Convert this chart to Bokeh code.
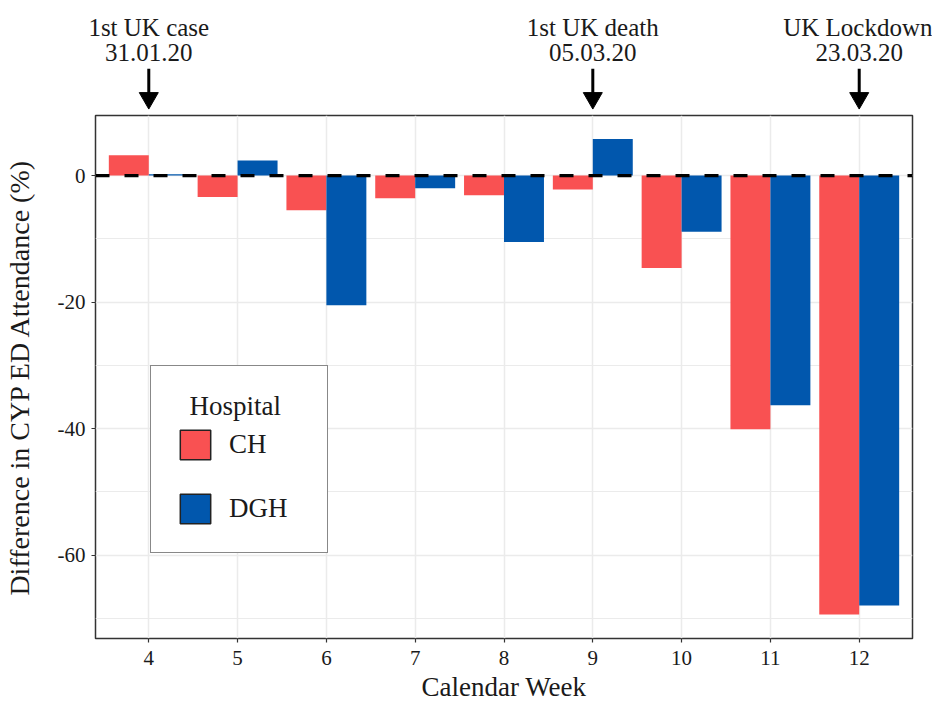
import math
from bokeh.plotting import figure
from bokeh.layouts import column
from bokeh.models import (Range1d, FixedTicker, Span, Legend, LegendItem,
                          ColumnDataSource, LinearAxis)
from bokeh.transform import dodge
from bokeh.embed import file_html
from bokeh.resources import INLINE

# ---- data ----
weeks = [4, 5, 6, 7, 8, 9, 10, 11, 12]
ch = [3.2, -3.4, -5.5, -3.6, -3.1, -2.2, -14.6, -40.1, -69.4]
dgh = [0.2, 2.4, -20.5, -2.0, -10.5, 5.8, -8.9, -36.3, -68.0]
hospitals = ["CH", "DGH"]
y_ticks = [0, -20, -40, -60]
y_tick_labels = ["0", "-20", "-40", "-60"]
y_minor = [-10, -30, -50, -70]
event_weeks = [4, 9, 12]
event_names = ["1st UK case", "1st UK death", "UK Lockdown"]
event_dates = ["31.01.20", "05.03.20", "23.03.20"]

# ---- style / layout ----
FONT = "Liberation Serif"
RED = "#F95152"
BLUE = "#0157AD"
GRID = "#EBEBEB"
TXT = "#1a1a1a"
X_MIN, X_MAX = 3.4, 12.6
Y_MIN, Y_MAX = -73.2, 9.5
W = 932
TOP_H = 112            # annotation strip above the panel
TOP_BT = 68            # text rows live in the strip's top border
MAIN_H = 594
BL, BR, BT, BB = 89, 20, 3, 68
BAR_W = 0.45
ARROW_TIP = 108        # pixels from top of strip
HEAD = 18

# ---------- annotation strip ----------
top = figure(width=W, height=TOP_H, x_range=Range1d(X_MIN, X_MAX),
             y_range=Range1d(TOP_H, TOP_BT), output_backend="svg",
             toolbar_location=None, min_border_left=BL, min_border_right=BR,
             min_border_top=TOP_BT, min_border_bottom=0,
             x_axis_type=None, y_axis_type=None)
top.grid.visible = False
top.outline_line_color = None
top.background_fill_color = "white"
top.border_fill_color = "white"

# event texts as tick labels of two axes above the strip (never clipped)
for labels, standoff in ((event_dates, 8), (event_names, 0)):
    ax = LinearAxis(ticker=FixedTicker(ticks=event_weeks, minor_ticks=[]),
                    major_label_overrides={w: t for w, t in zip(event_weeks, labels)},
                    axis_line_color=None, major_tick_line_color=None,
                    minor_tick_line_color=None, major_tick_in=0, major_tick_out=0,
                    major_label_standoff=standoff, major_label_text_font=FONT,
                    major_label_text_font_size="25px", major_label_text_color=TXT)
    top.add_layout(ax, "above")

ev = ColumnDataSource(dict(
    week=event_weeks,
    tail=[TOP_BT] * len(event_weeks),
    neck=[ARROW_TIP - HEAD * 0.75] * len(event_weeks),
    head=[ARROW_TIP - (HEAD / 2) * math.sqrt(3) * 2 / 3] * len(event_weeks),
))
top.segment(x0="week", y0="tail", x1="week", y1="neck", source=ev,
            line_color="black", line_width=3)
top.scatter(x="week", y="head", source=ev, marker="inverted_triangle",
            size=HEAD + 1, fill_color="black", line_color="black")

# ---------- main panel ----------
p = figure(width=W, height=MAIN_H, x_range=top.x_range,
           y_range=Range1d(Y_MIN, Y_MAX), output_backend="svg",
           toolbar_location=None, min_border_left=BL, min_border_right=BR,
           min_border_top=BT, min_border_bottom=BB)
p.background_fill_color = "white"
p.border_fill_color = "white"
p.outline_line_color = "#333333"
p.outline_line_width = 1.5

src = ColumnDataSource(dict(week=weeks, ch=ch, dgh=dgh))
x_ch = dodge("week", -BAR_W / 2, range=p.x_range)
x_dgh = dodge("week", BAR_W / 2, range=p.x_range)
p.vbar(x=x_ch, top="ch", bottom=0, width=BAR_W, source=src,
       fill_color=RED, line_color=None)
p.vbar(x=x_dgh, top="dgh", bottom=0, width=BAR_W, source=src,
       fill_color=BLUE, line_color=None)

# hidden twins used only for legend keys (dark outline)
leg_ch = p.vbar(x=x_ch, top="ch", bottom=0, width=BAR_W, source=src,
                fill_color=RED, line_color="#222222", line_width=1.5, visible=False)
leg_dgh = p.vbar(x=x_dgh, top="dgh", bottom=0, width=BAR_W, source=src,
                 fill_color=BLUE, line_color="#222222", line_width=1.5, visible=False)

# axes
p.xaxis.ticker = FixedTicker(ticks=weeks, minor_ticks=[])
p.yaxis.ticker = FixedTicker(ticks=y_ticks, minor_ticks=y_minor)
p.yaxis.major_label_overrides = {t: l for t, l in zip(y_ticks, y_tick_labels)}
for ax in (p.xaxis[0], p.yaxis[0]):
    ax.axis_line_color = None
    ax.major_tick_line_color = "#333333"
    ax.major_tick_line_width = 1.2
    ax.major_tick_out = 4
    ax.major_tick_in = 0
    ax.minor_tick_line_color = None
    ax.major_label_text_font = FONT
    ax.major_label_text_font_size = "21px"
    ax.major_label_text_color = TXT
    ax.axis_label_text_font = FONT
    ax.axis_label_text_font_style = "normal"
    ax.axis_label_text_color = TXT
p.xaxis.axis_label = "Calendar Week"
p.xaxis.axis_label_text_font_size = "27px"
p.xaxis.major_label_standoff = 8
p.xaxis.axis_label_standoff = 4
p.yaxis.axis_label = "Difference in CYP ED Attendance (%)"
p.yaxis.axis_label_text_font_size = "28px"
p.yaxis.major_label_standoff = 6
p.yaxis.axis_label_standoff = 20

# grid
p.xgrid.grid_line_color = GRID
p.xgrid.grid_line_width = 1.5
p.ygrid.grid_line_color = GRID
p.ygrid.grid_line_width = 1.5
p.ygrid.minor_grid_line_color = GRID
p.ygrid.minor_grid_line_width = 1.0

# dashed zero line
p.add_layout(Span(location=0, dimension="width", line_color="black",
                  line_width=3.3, line_dash="14 15"))

legend = Legend(items=[LegendItem(label=hospitals[0], renderers=[leg_ch]),
                       LegendItem(label=hospitals[1], renderers=[leg_dgh])],
                location=(55, 85), title="\u00a0\u00a0Hospital",
                title_text_font=FONT, title_text_font_size="27px",
                title_text_font_style="normal", title_text_color=TXT,
                title_standoff=4,
                label_text_font=FONT, label_text_font_size="27px",
                label_text_color=TXT, label_standoff=15, label_width=73,
                glyph_width=38, glyph_height=37, spacing=27, padding=25,
                border_line_color="#111111", border_line_width=1.5,
                background_fill_color="white", background_fill_alpha=1.0,
                inactive_fill_alpha=0.0, click_policy="none")
p.add_layout(legend)

layout = column(top, p, spacing=0)
open("out.html", "w").write(file_html(layout, INLINE))
